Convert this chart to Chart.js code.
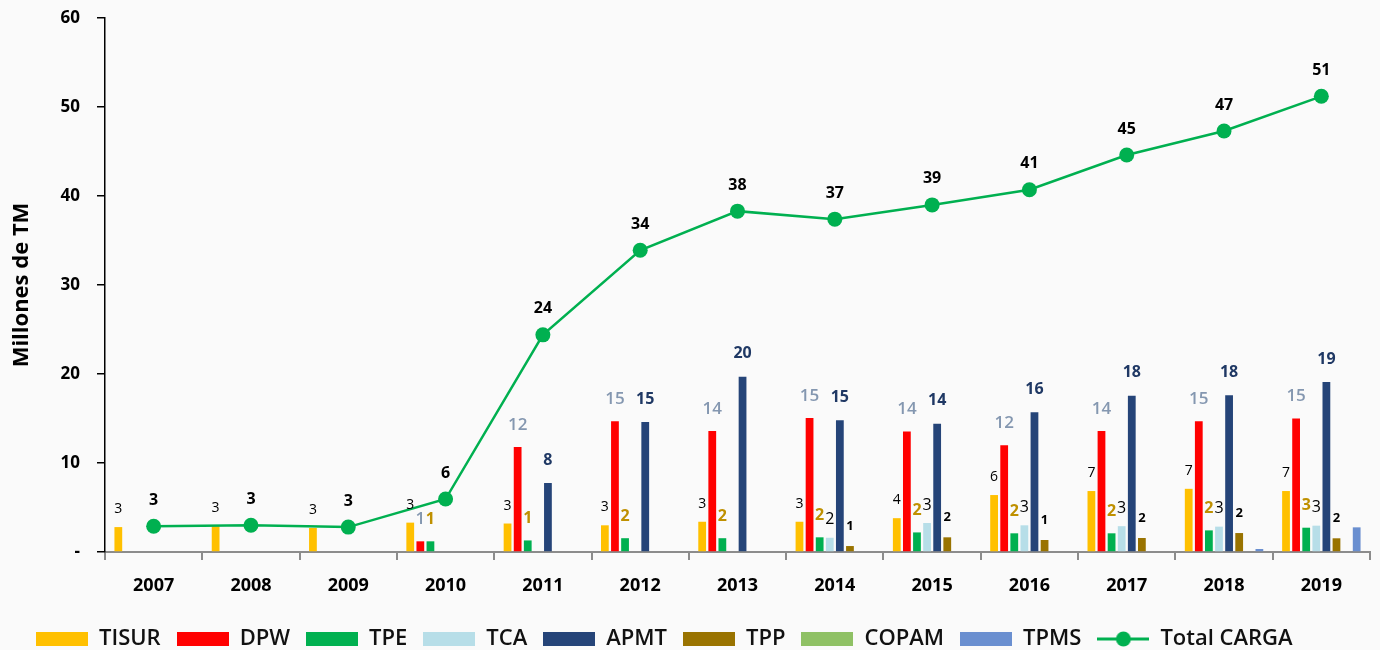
<!DOCTYPE html>
<html lang="es">
<head>
<meta charset="UTF-8">
<title>Carga movilizada por terminal</title>
<script src="https://cdn.jsdelivr.net/npm/chart.js"></script>
<style>
  html, body { margin: 0; padding: 0; background: #fafafa; }
  .container { width: 1380px; height: 650px; position: relative; }
</style>
</head>
<body>
<div class="container">
  <canvas id="graficaCarga"></canvas>
</div>

<script>
// datos (millones de TM)
const anios = ['2007', '2008', '2009', '2010', '2011', '2012', '2013', '2014', '2015', '2016', '2017', '2018', '2019'];
const tisur = [2.8, 2.9, 2.7, 3.3, 3.2, 3.0, 3.4, 3.4, 3.8, 6.4, 6.85, 7.1, 6.85];
const dpw   = [null, null, null, 1.2, 11.8, 14.7, 13.6, 15.05, 13.55, 12.0, 13.6, 14.7, 15.0];
const tpe   = [null, null, null, 1.2, 1.3, 1.55, 1.55, 1.65, 2.2, 2.1, 2.1, 2.43, 2.73];
const tca   = [null, null, null, null, null, null, null, 1.6, 3.26, 3.0, 2.9, 2.85, 2.96];
const apmt  = [null, null, null, null, 7.75, 14.6, 19.7, 14.8, 14.4, 15.7, 17.55, 17.6, 19.1];
const tpp   = [null, null, null, null, null, null, null, 0.67, 1.65, 1.35, 1.57, 2.13, 1.54];
const copam = [null, null, null, null, null, null, null, null, null, null, null, null, null];
const tpms  = [null, null, null, null, null, null, null, null, null, null, null, 0.34, 2.77];
const totalCarga = [2.9, 3.0, 2.8, 5.95, 24.4, 33.9, 38.3, 37.4, 39.0, 40.7, 44.6, 47.3, 51.2];
const ticksY = [0, 10, 20, 30, 40, 50, 60];

const fuente = '"Open Sans", sans-serif';
Chart.defaults.font.family = fuente;

// etiquetas de valores encima de barras y puntos
const etiquetas = {
    id: 'etiquetas',
    afterDatasetsDraw(chart) {
        const ctx = chart.ctx;
        chart.data.datasets.forEach((ds, i) => {
            const est = ds.etiqueta;
            if (!est) return;
            const meta = chart.getDatasetMeta(i);
            meta.data.forEach((el, j) => {
                const v = ds.data[j];
                if (v == null || Math.round(v) === 0) return;
                ctx.save();
                ctx.font = est.weight + ' ' + est.size + 'px ' + fuente;
                ctx.fillStyle = est.color;
                ctx.textAlign = 'center';
                ctx.textBaseline = 'middle';
                ctx.fillText(Math.round(v), el.x, el.y - est.dy);
                ctx.restore();
            });
        });
    }
};

// mover la leyenda a su sitio
const ajusteLeyenda = {
    id: 'ajusteLeyenda',
    afterLayout(chart) {
        const lg = chart.legend;
        lg.left = 20;
        lg.top = chart.height - 38;
        lg.bottom = chart.height;
    }
};

function iconoLeyenda(ds) {
    const c = document.createElement('canvas');
    c.width = 52;
    c.height = 16;
    const g = c.getContext('2d');
    if (ds.type === 'line') {
        g.strokeStyle = ds.borderColor;
        g.lineWidth = 3;
        g.beginPath(); g.moveTo(0, 8); g.lineTo(52, 8); g.stroke();
        g.fillStyle = ds.borderColor;
        g.beginPath(); g.arc(26, 8, 7.5, 0, Math.PI * 2); g.fill();
    } else {
        g.fillStyle = ds.backgroundColor;
        g.fillRect(0, 1, 52, 14);
    }
    return c;
}

function barra(label, data, color, etiqueta) {
    return { type: 'bar', label: label, data: data, backgroundColor: color, borderWidth: 0, order: 1, etiqueta: etiqueta };
}

const ctx = document.getElementById('graficaCarga').getContext('2d');
const grafica = new Chart(ctx, {
    data: {
        labels: anios,
        datasets: [
            barra('TISUR', tisur, '#FFC000', { color: '#000', size: 14, weight: 'normal', dy: 18 }),
            barra('DPW', dpw, '#FF0000', { color: '#8497B0', size: 17, weight: '600', dy: 22 }),
            barra('TPE', tpe, '#00B050', { color: '#BF9000', size: 16, weight: 'bold', dy: 22 }),
            barra('TCA', tca, '#B7DEE8', { color: '#000', size: 16, weight: 'normal', dy: 18 }),
            barra('APMT', apmt, '#254478', { color: '#1F3864', size: 16, weight: 'bold', dy: 23 }),
            barra('TPP', tpp, '#997300', { color: '#000', size: 13, weight: 'bold', dy: 20 }),
            barra('COPAM', copam, '#8FC165', null),
            barra('TPMS', tpms, '#6A8FD0', null),
            {
                type: 'line',
                label: 'Total CARGA',
                data: totalCarga,
                borderColor: '#00B050',
                backgroundColor: '#00B050',
                borderWidth: 2.5,
                pointRadius: 7.5,
                pointHoverRadius: 8,
                pointBorderWidth: 0,
                tension: 0,
                order: 0,
                etiqueta: { color: '#000', size: 16, weight: 'bold', dy: 26 }
            }
        ]
    },
    options: {
        responsive: true,
        maintainAspectRatio: false,
        animation: false,
        layout: { autoPadding: false, padding: { top: 18, right: 10, left: 0, bottom: 0 } },
        datasets: {
            bar: { categoryPercentage: 0.83, barPercentage: 0.77 }
        },
        scales: {
            x: {
                afterFit(s) {
                    s.height = s.chart.height - 552 - s.chart.legend.height;
                    s.paddingTop = 0;
                    s.paddingBottom = 0;
                },
                ticks: { font: { size: 18, weight: 'bold' }, color: '#000', padding: 15 },
                grid: { drawOnChartArea: false, tickLength: 8, color: '#8c8c8c', lineWidth: 2, offset: true },
                border: { color: '#8c8c8c', width: 2 }
            },
            y: {
                min: 0,
                max: 60,
                afterFit(s) {
                    s.width = 105;
                    s.paddingTop = 0;
                    s.paddingBottom = 0;
                },
                afterBuildTicks(s) { s.ticks = ticksY.map(v => ({ value: v })); },
                ticks: {
                    callback: v => v === 0 ? '-' : v,
                    font: { size: 17, weight: 'bold' },
                    color: '#000',
                    padding: 17
                },
                grid: { drawOnChartArea: false, tickLength: 8, color: '#000', lineWidth: 1.5 },
                border: { color: '#000', width: 1.5 },
                title: {
                    display: true,
                    text: 'Millones de TM',
                    font: { size: 22, weight: 'bold' },
                    color: '#000',
                    padding: { top: 9, bottom: 0 }
                }
            }
        },
        plugins: {
            legend: {
                position: 'bottom',
                align: 'start',
                labels: {
                    usePointStyle: true,
                    pointStyleWidth: 52,
                    boxHeight: 14,
                    padding: 16,
                    color: '#111',
                    font: { size: 22, weight: '600' },
                    sort: (a, b) => a.datasetIndex - b.datasetIndex,
                    generateLabels(chart) {
                        const items = Chart.defaults.plugins.legend.labels.generateLabels(chart);
                        items.forEach(it => { it.pointStyle = iconoLeyenda(chart.data.datasets[it.datasetIndex]); });
                        return items;
                    }
                }
            },
            tooltip: { enabled: true }
        }
    },
    plugins: [etiquetas, ajusteLeyenda]
});
</script>
</body>
</html>
